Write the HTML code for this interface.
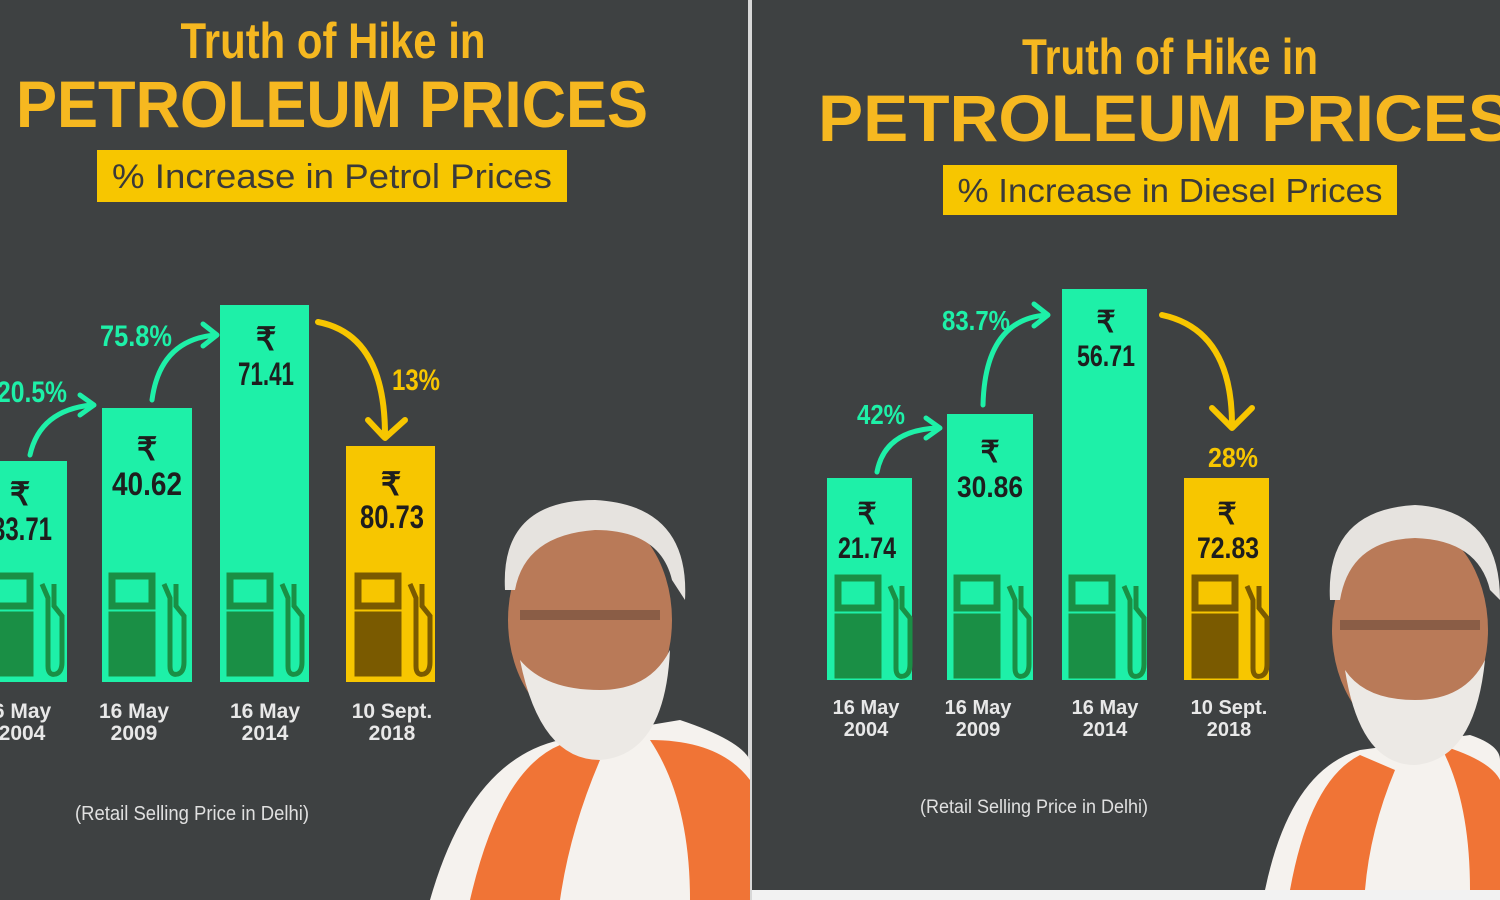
<!DOCTYPE html>
<html><head><meta charset="utf-8"><style>
html,body{margin:0;padding:0;background:#3e4142;}
svg{display:block}
text{font-family:"Liberation Sans Narrow","Liberation Sans",sans-serif;}
</style></head><body>
<svg width="1500" height="900" viewBox="0 0 1500 900" xmlns="http://www.w3.org/2000/svg">
<defs>
<g id="pump">
 <rect x="0" y="0" width="40" height="30" fill="none" stroke-width="7"/>
 <rect x="-3" y="36" width="46" height="64"/>
 <path d="M52 8 L58 22 L58 90 Q58 100 66 98 Q72 96 72 86 L72 40 L64 30 L64 8" fill="none" stroke-width="5"/>
</g>
</defs>
<rect width="1500" height="900" fill="#3e4142"/>
<rect x="748" y="0" width="4" height="900" fill="#d8d8d8"/>
<rect x="752" y="890" width="748" height="10" fill="#f2f2f2"/>

<!-- LEFT PANEL -->
<text x="333" y="58" font-size="50" font-weight="bold" fill="#f6b820" text-anchor="middle" textLength="305" lengthAdjust="spacingAndGlyphs">Truth of Hike in</text>
<text x="332" y="127" font-size="66" font-weight="bold" fill="#f6b820" text-anchor="middle" font-family="Liberation Sans" textLength="632" lengthAdjust="spacingAndGlyphs">PETROLEUM PRICES</text>
<rect x="97" y="150" width="470" height="52" fill="#f7c600"/>
<text x="332" y="188" font-size="34" fill="#3a3a3a" text-anchor="middle" font-family="Liberation Sans" textLength="440" lengthAdjust="spacingAndGlyphs">% Increase in Petrol Prices</text>

<g>
<rect x="-20" y="461" width="87" height="221" fill="#1ef0a8"/>
<rect x="102" y="408" width="90" height="274" fill="#1ef0a8"/>
<rect x="220" y="305" width="89" height="377" fill="#1ef0a8"/>
<rect x="346" y="446" width="89" height="236" fill="#f7c600"/>
<g fill="#1a8f45" stroke="#1a8f45">
 <use href="#pump" x="-10" y="576"/>
 <use href="#pump" x="112" y="576"/>
 <use href="#pump" x="230" y="576"/>
</g>
<g fill="#7a5a00" stroke="#7a5a00"><use href="#pump" x="358" y="576"/></g>
<g font-size="32" font-weight="bold" fill="#1e1e1e" text-anchor="middle">
 <text x="20" y="505">₹</text><text x="22" y="540" textLength="60" lengthAdjust="spacingAndGlyphs">33.71</text>
 <text x="147" y="460">₹</text><text x="147" y="495" textLength="70" lengthAdjust="spacingAndGlyphs">40.62</text>
 <text x="266" y="350">₹</text><text x="266" y="385" textLength="56" lengthAdjust="spacingAndGlyphs">71.41</text>
 <text x="391" y="495">₹</text><text x="392" y="528" textLength="64" lengthAdjust="spacingAndGlyphs">80.73</text>
</g>
<g font-size="21" font-weight="bold" fill="#e8e8e8" text-anchor="middle">
 <text x="22" y="718">6 May</text><text x="22" y="740">2004</text>
 <text x="134" y="718">16 May</text><text x="134" y="740">2009</text>
 <text x="265" y="718">16 May</text><text x="265" y="740">2014</text>
 <text x="392" y="718">10 Sept.</text><text x="392" y="740">2018</text>
</g>
<text x="192" y="820" font-size="20" fill="#e0e0e0" text-anchor="middle" textLength="234" lengthAdjust="spacingAndGlyphs">(Retail Selling Price in Delhi)</text>
<g font-size="30" font-weight="bold" text-anchor="middle">
 <text x="32" y="402" fill="#1ef0a8" textLength="70" lengthAdjust="spacingAndGlyphs">20.5%</text>
 <text x="136" y="346" fill="#1ef0a8" textLength="72" lengthAdjust="spacingAndGlyphs">75.8%</text>
 <text x="416" y="390" fill="#f7c600" textLength="48" lengthAdjust="spacingAndGlyphs">13%</text>
</g>
<g fill="none" stroke-width="5" stroke-linecap="round" stroke-linejoin="round">
 <path d="M30 455 Q40 410 92 405 M80 395 L94 405 L80 415" stroke="#1ef0a8"/>
 <path d="M152 400 Q160 340 215 335 M203 324 L217 335 L203 346" stroke="#1ef0a8"/>
 <path d="M318 322 Q385 335 385 435 M368 420 L385 438 L405 420" stroke="#f7c600" stroke-width="6"/>
</g>
</g>

<!-- LEFT PERSON -->
<g>
 <path d="M430 900 Q470 760 560 740 L680 720 Q740 740 750 760 L750 900 Z" fill="#f5f2ee"/>
 <path d="M470 900 Q500 770 560 745 L600 760 Q570 830 560 900 Z" fill="#f07436"/>
 <path d="M650 740 Q720 740 750 780 L750 900 L690 900 Q690 800 650 740 Z" fill="#f07436"/>
 <ellipse cx="590" cy="620" rx="82" ry="110" fill="#b97a58"/>
 <path d="M505 590 Q500 500 595 500 Q690 505 685 600 L672 580 Q660 530 595 530 Q525 535 515 590 Z" fill="#e6e3df"/>
 <path d="M520 660 Q540 760 600 760 Q665 755 670 650 Q650 690 600 690 Q545 690 520 660 Z" fill="#ece9e5"/>
 <rect x="520" y="610" width="140" height="10" fill="#6b4a3a" opacity="0.6"/>
</g>

<!-- RIGHT PANEL -->
<text x="1170" y="74" font-size="50" font-weight="bold" fill="#f6b820" text-anchor="middle" textLength="296" lengthAdjust="spacingAndGlyphs">Truth of Hike in</text>
<text x="818" y="141" font-size="66" font-weight="bold" fill="#f6b820" font-family="Liberation Sans" textLength="695" lengthAdjust="spacingAndGlyphs">PETROLEUM PRICES</text>
<rect x="943" y="165" width="454" height="50" fill="#f7c600"/>
<text x="1170" y="202" font-size="33" fill="#3a3a3a" text-anchor="middle" font-family="Liberation Sans" textLength="425" lengthAdjust="spacingAndGlyphs">% Increase in Diesel Prices</text>

<rect x="827" y="478" width="85" height="202" fill="#1ef0a8"/>
<rect x="947" y="414" width="86" height="266" fill="#1ef0a8"/>
<rect x="1062" y="289" width="85" height="391" fill="#1ef0a8"/>
<rect x="1184" y="478" width="85" height="202" fill="#f7c600"/>
<g fill="#1a8f45" stroke="#1a8f45">
 <use href="#pump" x="838" y="578"/>
 <use href="#pump" x="957" y="578"/>
 <use href="#pump" x="1072" y="578"/>
</g>
<g fill="#7a5a00" stroke="#7a5a00"><use href="#pump" x="1195" y="578"/></g>
<g font-size="30" font-weight="bold" fill="#1e1e1e" text-anchor="middle">
 <text x="867" y="524">₹</text><text x="867" y="558" textLength="58" lengthAdjust="spacingAndGlyphs">21.74</text>
 <text x="990" y="462">₹</text><text x="990" y="497" textLength="66" lengthAdjust="spacingAndGlyphs">30.86</text>
 <text x="1106" y="332">₹</text><text x="1106" y="366" textLength="58" lengthAdjust="spacingAndGlyphs">56.71</text>
 <text x="1227" y="524">₹</text><text x="1228" y="558" textLength="62" lengthAdjust="spacingAndGlyphs">72.83</text>
</g>
<g font-size="20" font-weight="bold" fill="#e8e8e8" text-anchor="middle">
 <text x="866" y="714">16 May</text><text x="866" y="736">2004</text>
 <text x="978" y="714">16 May</text><text x="978" y="736">2009</text>
 <text x="1105" y="714">16 May</text><text x="1105" y="736">2014</text>
 <text x="1229" y="714">10 Sept.</text><text x="1229" y="736">2018</text>
</g>
<text x="1034" y="813" font-size="19" fill="#e0e0e0" text-anchor="middle" textLength="228" lengthAdjust="spacingAndGlyphs">(Retail Selling Price in Delhi)</text>
<g font-size="28" font-weight="bold" text-anchor="middle">
 <text x="881" y="424" fill="#1ef0a8" textLength="48" lengthAdjust="spacingAndGlyphs">42%</text>
 <text x="976" y="330" fill="#1ef0a8" textLength="68" lengthAdjust="spacingAndGlyphs">83.7%</text>
 <text x="1233" y="467" fill="#f7c600" textLength="50" lengthAdjust="spacingAndGlyphs">28%</text>
</g>
<g fill="none" stroke-width="5" stroke-linecap="round" stroke-linejoin="round">
 <path d="M877 472 Q885 430 938 428 M926 418 L940 428 L926 438" stroke="#1ef0a8"/>
 <path d="M983 405 Q985 320 1046 315 M1034 304 L1048 315 L1034 326" stroke="#1ef0a8"/>
 <path d="M1162 315 Q1232 330 1232 425 M1212 408 L1232 428 L1252 408" stroke="#f7c600" stroke-width="6"/>
</g>

<!-- RIGHT PERSON -->
<g>
 <path d="M1265 890 Q1290 770 1360 750 L1470 735 Q1500 745 1500 760 L1500 890 Z" fill="#f5f2ee"/>
 <path d="M1290 890 Q1310 780 1360 755 L1395 770 Q1370 830 1365 890 Z" fill="#f07436"/>
 <path d="M1440 745 Q1490 760 1500 780 L1500 890 L1470 890 Q1470 800 1440 745 Z" fill="#f07436"/>
 <ellipse cx="1410" cy="630" rx="78" ry="108" fill="#b97a58"/>
 <path d="M1330 600 Q1325 510 1415 505 Q1500 510 1500 600 L1490 590 Q1478 540 1415 538 Q1350 540 1340 600 Z" fill="#e6e3df"/>
 <path d="M1345 670 Q1360 765 1415 765 Q1475 760 1485 660 Q1465 700 1415 700 Q1365 700 1345 670 Z" fill="#ece9e5"/>
 <rect x="1340" y="620" width="140" height="10" fill="#6b4a3a" opacity="0.6"/>
</g>
</svg>
</body></html>
